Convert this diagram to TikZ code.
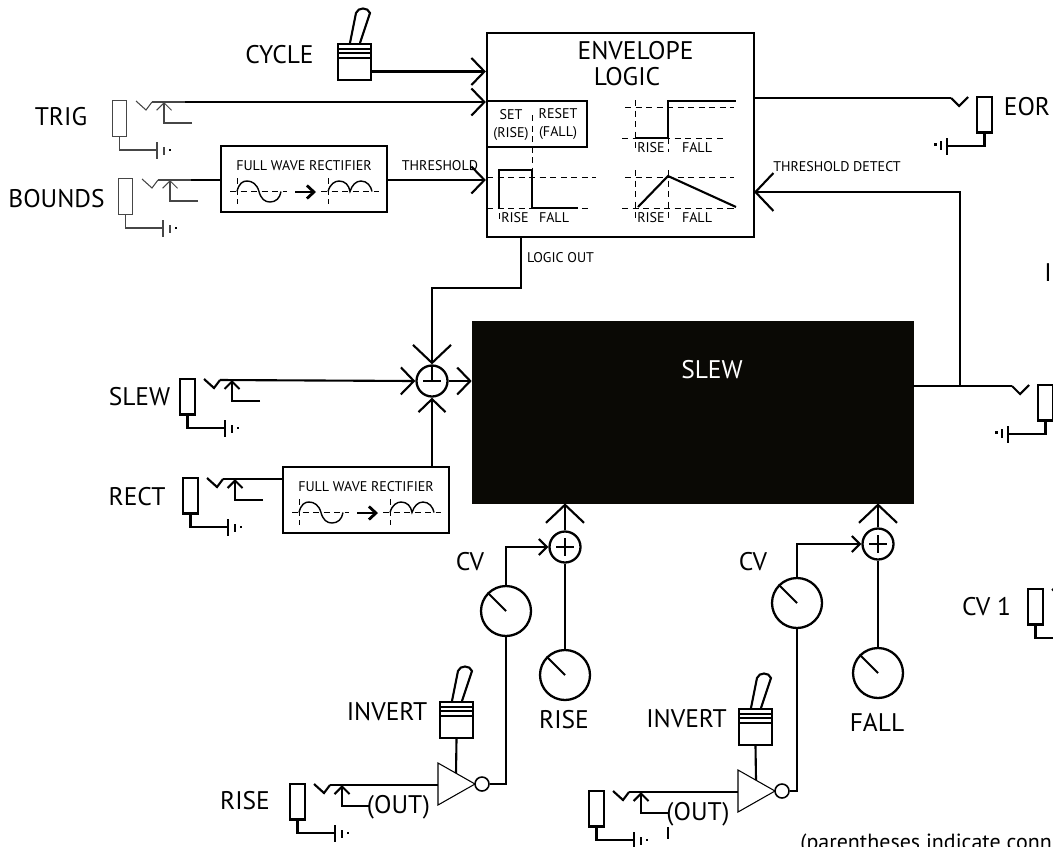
\documentclass[tikz,border=0pt]{standalone}
\usepackage{fontspec}
\setmainfont{PT Sans}
\usetikzlibrary{arrows.meta}
\definecolor{figNoir}{RGB}{10,9,5}
\definecolor{figTrait}{RGB}{70,70,70}

\begin{document}
\begin{tikzpicture}[
  x=0.02cm, y=-0.02cm,
  tipbig/.tip={Straight Barb[length=3.6mm,width=7.6mm]},
  tipmid/.tip={Straight Barb[length=2.6mm,width=5.4mm]},
  tipsmall/.tip={Straight Barb[length=1.6mm,width=3.2mm]},
  lab/.style={anchor=base, inner sep=0pt, font=\fontsize{14.5}{16}\selectfont},
  lbl/.style={anchor=base, inner sep=0pt, font=\fontsize{8}{9}\selectfont},
  wire/.style={line width=1.2pt, line join=miter},
  fl/.style={wire, -tipmid},
  fb/.style={wire, -tipbig},
  fs/.style={wire, -tipsmall},
  dashln/.style={line width=0.55pt, dash pattern=on 3.5pt off 2.5pt},
  jackthin/.style={line width=0.6pt, draw=figTrait},
  jackthick/.style={line width=1.2pt},
  box/.style={draw, line width=1.3pt, fill=white, inner sep=0pt},
  pot/.style={circle, draw, line width=1.3pt, inner sep=0pt, minimum size=1cm},
  sum/.style={circle, draw, line width=1.3pt, inner sep=0pt, minimum size=0.62cm},
  bubble/.style={circle, draw, line width=0.9pt, inner sep=0pt, minimum size=0.28cm},
  jackbody/.style={draw, inner sep=0pt, minimum width=0.29cm, minimum height=0.71cm},
  jackin/.pic={
    \node[jackbody] (-body) at (7.5,17.7) {};
    \coordinate (-sw) at (40,1);
    \draw (24,0) -- (34,9) -- (40,1);
    \draw[-{Straight Barb[length=1.5mm,width=3mm]}] (80,22) -- (52,22) -- (52,1);
    \draw (7.5,36) |- (45,49);
    \draw (45,41) -- (45,58) (52,46) -- (52,54);
    \fill (57,48) rectangle (59,50);
  },
  jackout/.pic={
    \node[jackbody] (-body) at (7.5,17.7) {};
    \coordinate (-sw) at (-26,1);
    \draw (-26,1) -- (-18,9) -- (-9,0);
    \draw (7.5,36) |- (-30,49);
    \draw (-30,41) -- (-30,58) (-36,44) -- (-36,53);
    \fill (-43,46) rectangle (-40,49);
  },
  togglepic/.pic={
    \node[box, minimum width=0.66cm, minimum height=0.72cm] (-box) at (16.5,18) {};
    \coordinate (-out) at (33,27.5);
    \draw[line width=1pt] (0,5) -- (33,5) (0,9) -- (33,9) (0,14) -- (33,14);
    \draw[wire] (12,-1) -- (18,-31) .. controls (20,-37) and (30,-37) .. (32,-31) -- (22,-1);
  },
  rectifierpic/.pic={
    \node[box, minimum width=3.32cm, minimum height=1.32cm] (-box) at (83,33) {};
    \node[lbl] (-txt) at (83,24.5) {FULL WAVE RECTIFIER};
    \draw[dashln] (9,45.5) -- (66,45.5) (16,32) -- (16,58) (100,45.5) -- (158,45.5) (107,32) -- (107,58);
    \draw[line width=0.8pt] (16,45.5) .. controls (18,37) and (22,35) .. (26,35) .. controls (31,35) and (36,38) .. (38,45.5) .. controls (40,53) and (44,56) .. (49,56) .. controls (55,56) and (59,52) .. (60,45.5);
    \draw[line width=0.8pt] (107,45.5) .. controls (109,38) and (114,35) .. (118,35) .. controls (124,35) and (128,39) .. (129,45.5) .. controls (131,39) and (135,35) .. (140,35) .. controls (146,35) and (150,40) .. (151,45.5);
    \draw[wire, line width=1.6pt, -{Straight Barb[length=1.4mm,width=2.6mm]}] (74,46) -- (95,46);
  },
  invpic/.pic={
    \coordinate (-in) at (0,0);
    \coordinate (-top) at (18,-11);
    \draw[line width=0.6pt, fill=white] (0,-21) -- (37,0) -- (0,21) -- cycle;
    \node[bubble] (-bub) at (44,0) {};
  }
]
\useasboundingbox (0,0) rectangle (1053,846);
\clip (0,0) rectangle (1053,846);

% envelope block
\node[box, minimum width=5.34cm, minimum height=4.08cm] (env) at (620.5,135) {};
\node[lab] (envtitle) at (635.5,59) {ENVELOPE};
\node[lab] (envlogic) at (627,85) {LOGIC};
\node[box, minimum width=2cm, minimum height=0.92cm] (setbox) at (537,124) {};
\node[lbl] (tset) at (511,119) {SET};
\node[lbl] (trise) at (511,137) {(RISE)};
\node[lbl] (treset) at (558,118) {RESET};
\node[lbl] (tfall) at (558,136) {(FALL)};
\draw[dashln] (532,115) -- (532,170);

% little graphs
\draw[dashln] (487,177) -- (596,177) (487,208) -- (590,208) (499,213) -- (499,219);
\draw[wire] (499,208) -- (499,170) -- (532,170) -- (532,208) -- (578,208);
\draw[dashln] (625,107) -- (734,107) (622,138) -- (726,138) (635,100) -- (635,152) (668,138) -- (668,152);
\draw[wire] (635,138) -- (668,138) -- (668,101) -- (736,101);
\draw[dashln] (625,177) -- (734,177) (622,208) -- (736,208) (635,170) -- (635,219) (668,170) -- (668,219);
\draw[wire] (638,207) -- (668,176) -- (736,207);
\node[lbl] (ga) at (515,222) {RISE};
\node[lbl] (gb) at (554,222) {FALL};
\node[lbl] (gc) at (651,152) {RISE};
\node[lbl] (gd) at (697,152) {FALL};
\node[lbl] (ge) at (651,222) {RISE};
\node[lbl] (gf) at (697,222) {FALL};

% top left inputs
\pic (cycle) at (338,44) {togglepic};
\pic[jackthin] (trig) at (112,101) {jackin};
\pic[jackthin] (bounds) at (118,179) {jackin};
\pic (bfr) at (221,146) {rectifierpic};
\node[lab] (lcycle) at (279.5,63) {CYCLE};
\node[lab] (ltrig) at (61,125) {TRIG};
\node[lab] (lbounds) at (56.5,207) {BOUNDS};
\node[lbl] (lthresh) at (440,170.5) {THRESHOLD};
\draw[fl] (cycle-out) -- (cycle-out -| env.west);
\draw[jackthin] (trig-sw) -- ++(33,0) coordinate (trigmid);
\draw[fl] (trigmid) -- (trigmid -| env.west);
\draw[jackthin] (bounds-sw) -- ++(33,0) coordinate (boundsmid);
\draw[wire] (boundsmid) -- (boundsmid -| bfr-box.west);
\draw[fl] (boundsmid -| bfr-box.east) -- (boundsmid -| env.west);

% slew
\node[draw=figNoir, fill=figNoir, inner sep=0pt, minimum width=8.82cm, minimum height=3.64cm] (slew) at (692.5,412) {};
\node[lab, text=white] (lslew) at (712,378) {SLEW};

\node[sum] (sumslew) at (432,381) {};
\pic[jackthick] (jslew) at (180,379) {jackin};
\pic[jackthick] (jrect) at (183,478) {jackin};
\pic (rfr) at (283,467) {rectifierpic};
\node[lab] (lslewin) at (139.5,405) {SLEW};
\node[lab] (lrect) at (137,505) {RECT};
\draw[wire] (423,381) -- (441,381) (432,366) -- (432,381);
\coordinate (logicout) at (521,237);
\coordinate (logicbend) at (521,288);
\draw[fb] (logicout) -- (logicbend) -| (sumslew.north);
\node[lbl] (llogic) at (560.5,262) {LOGIC OUT};
\draw[fl] (jslew-sw) -- (sumslew.west);
\draw[fl] (sumslew.east) -- (slew.west |- sumslew);
\draw[fl] (sumslew |- rfr-box.north) -- (sumslew.south);
\draw[wire] (jrect-sw) -- (jrect-sw -| rfr-box.west);

% outputs
\pic[jackthick] (eor) at (977,97) {jackout};
\node[lab] (leor) at (1027,115) {EOR};
\draw[wire] (env.east |- eor-sw) -- (eor-sw);
\pic[jackthick] (jout) at (1038,385) {jackout};
\node[lab] (lin) at (1048,281) {I};
\coordinate (tbranch) at (960,386);
\coordinate (tin) at (754,192);
\draw[wire] (slew.east |- jout-sw) -- (jout-sw);
\draw[fb] (tbranch) |- (tin);
\node[lbl] (ltd) at (837,171) {THRESHOLD DETECT};

% rise side
\node[sum] (suma) at (565,547) {};
\node[pot] (potcva) at (506,611) {};
\node[pot] (potrise) at (565,675) {};
\pic (tinva) at (440,702) {togglepic};
\pic (inva) at (438,784) {invpic};
\pic[jackthick] (jrise) at (290,784) {jackin};
\node[lab] (lcva) at (470,570) {CV};
\node[lab] (lrise) at (564,728) {RISE};
\node[lab] (linva) at (387,720) {INVERT};
\node[lab] (ljrise) at (245,809) {RISE};
\node[lab] (louta) at (398.5,813) {(OUT)};
\draw[wire] (jrise-sw) -- (jrise-sw -| inva-in);
\draw[wire] (tinva-box.south) -- (inva-top);
\draw[wire] (inva-bub.east) -| (potcva.south);
\draw[fs] (potcva.north) |- (suma.west);
\draw[wire] (potrise.north) -- (suma.south);
\draw[fb] (suma.north) -- (suma |- slew.south);

% fall side
\node[sum] (sumb) at (878,544) {};
\node[pot] (potcvb) at (797,603) {};
\node[pot] (potfall) at (878,673) {};
\pic (tinvb) at (739,709) {togglepic};
\pic (invb) at (738,791) {invpic};
\pic[jackthick] (jfall) at (589,791) {jackin};
\node[lab] (lcvb) at (753,570) {CV};
\node[lab] (lfall) at (877,731) {FALL};
\node[lab] (linvb) at (686.5,727) {INVERT};
\node[lab] (loutb) at (698,820) {(OUT)};
\draw[wire] (jfall-sw) -- (jfall-sw -| invb-in);
\draw[wire] (tinvb-box.south) -- (invb-top);
\draw[wire] (invb-bub.east) -| (potcvb.south);
\draw[fs] (potcvb.north) |- (sumb.west);
\draw[wire] (potfall.north) -- (sumb.south);
\draw[fb] (sumb.north) -- (sumb |- slew.south);
\draw[wire] (668,827) -- (668,839);

% dials and plus signs
\foreach \p in {potcva,potrise,potcvb,potfall} {
  \draw[wire] (\p.135) -- (\p.center);
}
\foreach \s in {suma,sumb} {
  \draw[wire] (\s.center) ++(-9,0) -- ++(18,0);
  \draw[wire] (\s.center) ++(0,-9) -- ++(0,18);
}

% cv 1 and note
\pic[jackthick] (jcv) at (1028,589) {jackin};
\node[lab] (lcv) at (986.5,615) {CV 1};
\node[lab, anchor=base west, font=\fontsize{12.5}{14}\selectfont] (lnote) at (800,849) {(parentheses indicate conn};

\end{tikzpicture}
\end{document}
